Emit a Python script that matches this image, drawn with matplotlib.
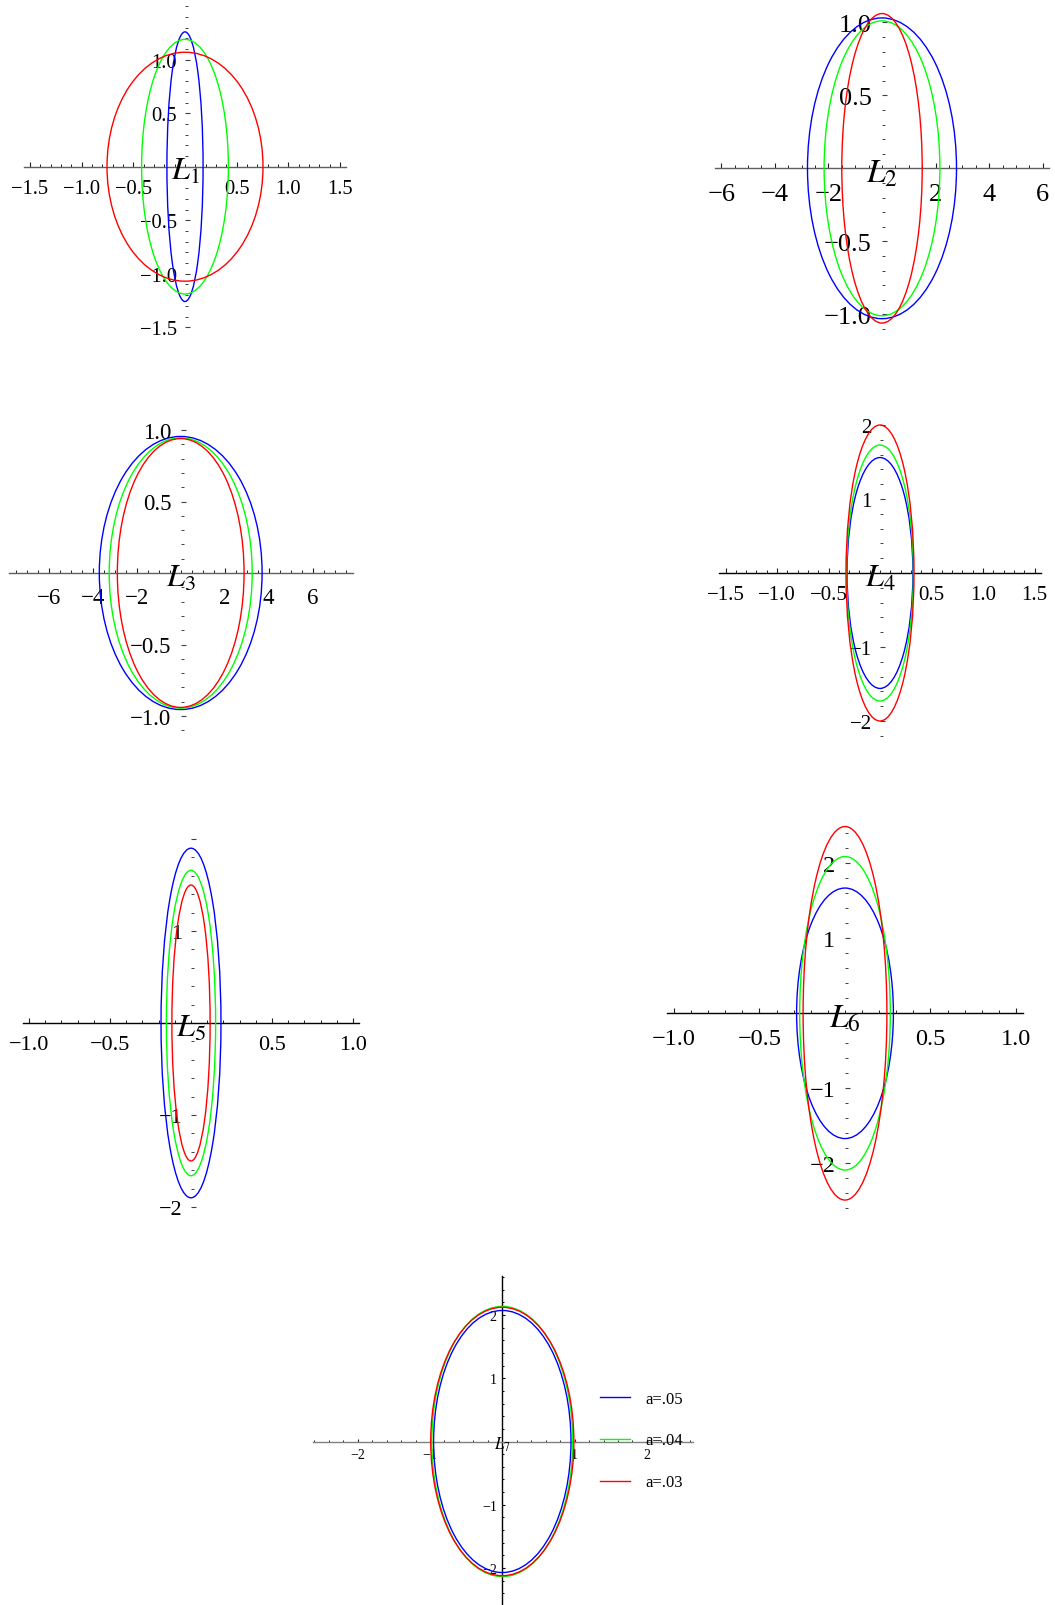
import matplotlib
matplotlib.use('Agg')
import matplotlib.pyplot as plt
from matplotlib.patches import Ellipse
from matplotlib.ticker import MultipleLocator
from matplotlib.lines import Line2D

W, H = 1055, 1606
plt.rcParams['font.family'] = ['Liberation Serif', 'DejaVu Serif']
plt.rcParams['mathtext.fontset'] = 'stix'

# ---------------- data ----------------
series_labels = ['a=.05', 'a=.04', 'a=.03']
series_colors = ['#0000ff', '#00ff00', '#ff0000']
panel_names = [r'$L_1$', r'$L_2$', r'$L_3$', r'$L_4$', r'$L_5$', r'$L_6$', r'$L_7$']

# semi-axes (x half-width, y half-height) of each curve, order: a=.05, a=.04, a=.03
L1_rx = [0.175, 0.42, 0.755]
L1_ry = [1.26, 1.19, 1.07]
L2_rx = [2.78, 2.16, 1.50]
L2_ry = [1.03, 1.01, 1.06]
L3_rx = [3.70, 3.25, 2.88]
L3_ry = [0.955, 0.945, 0.94]
L4_rx = [0.32, 0.325, 0.33]
L4_ry = [1.56, 1.73, 2.00]
L5_rx = [0.185, 0.152, 0.118]
L5_ry = [1.90, 1.66, 1.50]
L6_rx = [0.283, 0.265, 0.245]
L6_ry = [1.67, 2.09, 2.49]
L7_rx = [0.95, 0.975, 0.99]
L7_ry = [2.07, 2.135, 2.12]

L1_xticks = [-1.5, -1.0, -0.5, 0.5, 1.0, 1.5]
L1_xlabels = ['−1.5', '−1.0', '−0.5', '0.5', '1.0', '1.5']
L1_yticks = [-1.5, -1.0, -0.5, 0.5, 1.0]
L1_ylabels = ['−1.5', '−1.0', '−0.5', '0.5', '1.0']

L2_xticks = [-6, -4, -2, 2, 4, 6]
L2_xlabels = ['−6', '−4', '−2', '2', '4', '6']
L2_yticks = [-1.0, -0.5, 0.5, 1.0]
L2_ylabels = ['−1.0', '−0.5', '0.5', '1.0']

L3_xticks = [-6, -4, -2, 2, 4, 6]
L3_xlabels = ['−6', '−4', '−2', '2', '4', '6']
L3_yticks = [-1.0, -0.5, 0.5, 1.0]
L3_ylabels = ['−1.0', '−0.5', '0.5', '1.0']

L4_xticks = [-1.5, -1.0, -0.5, 0.5, 1.0, 1.5]
L4_xlabels = ['−1.5', '−1.0', '−0.5', '0.5', '1.0', '1.5']
L4_yticks = [-2, -1, 1, 2]
L4_ylabels = ['−2', '−1', '1', '2']

L5_xticks = [-1.0, -0.5, 0.5, 1.0]
L5_xlabels = ['−1.0', '−0.5', '0.5', '1.0']
L5_yticks = [-2, -1, 1, 2]
L5_ylabels = ['−2', '−1', '1', '']

L6_xticks = [-1.0, -0.5, 0.5, 1.0]
L6_xlabels = ['−1.0', '−0.5', '0.5', '1.0']
L6_yticks = [-2, -1, 1, 2]
L6_ylabels = ['−2', '−1', '1', '2']

L7_xticks = [-2, -1, 1, 2]
L7_xlabels = ['−2', '−1', '1', '2']
L7_yticks = [-2, -1, 1, 2]
L7_ylabels = ['−2', '−1', '1', '2']

panel_rx = [L1_rx, L2_rx, L3_rx, L4_rx, L5_rx, L6_rx, L7_rx]
panel_ry = [L1_ry, L2_ry, L3_ry, L4_ry, L5_ry, L6_ry, L7_ry]
panel_xticks = [(L1_xticks, L1_xlabels), (L2_xticks, L2_xlabels), (L3_xticks, L3_xlabels),
                (L4_xticks, L4_xlabels), (L5_xticks, L5_xlabels), (L6_xticks, L6_xlabels),
                (L7_xticks, L7_xlabels)]
panel_yticks = [(L1_yticks, L1_ylabels), (L2_yticks, L2_ylabels), (L3_yticks, L3_ylabels),
                (L4_yticks, L4_ylabels), (L5_yticks, L5_ylabels), (L6_yticks, L6_ylabels),
                (L7_yticks, L7_ylabels)]

# ---------------- layout (pixels) ----------------
layout = [
    dict(ox=185, oy=167.7, sx=103.3, sy=107, xlim=(-1.56, 1.56), ylim=(-1.52, 1.52),
         xm=0.1, ym=0.1, tf=14.8, xpad=9.0, lf=23, xc='#606060', yc=None),
    dict(ox=882, oy=169.3, sx=26.8, sy=146, xlim=(-6.25, 6.22), ylim=(-1.1, 1.03),
         xm=0.5, ym=0.1, tf=19, xpad=10.5, lf=24, xc='#606060', yc=None),
    dict(ox=180.7, oy=574, sx=22, sy=143, xlim=(-7.8, 7.85), ylim=(-1.12, 1.06),
         xm=0.5, ym=0.1, tf=16.5, xpad=10.0, lf=23, xc='#606060', yc=None),
    dict(ox=880, oy=574, sx=103, sy=74, xlim=(-1.56, 1.56), ylim=(-2.22, 2.03),
         xm=0.1, ym=0.2, tf=15, xpad=8.5, lf=23, xc='#000000', yc=None),
    dict(ox=191, oy=1024, sx=162, sy=92, xlim=(-1.04, 1.04), ylim=(-2.02, 2.02),
         xm=0.1, ym=0.2, tf=16, xpad=8.5, lf=23, xc='#000000', yc=None),
    dict(ox=845, oy=1014.3, sx=171, sy=75, xlim=(-1.04, 1.04), ylim=(-2.61, 2.42),
         xm=0.1, ym=0.2, tf=17.5, xpad=10.5, lf=24, xc='#000000', yc=None),
    dict(ox=502.3, oy=1442.5, sx=72.3, sy=63.3, xlim=(-2.62, 2.64), ylim=(-2.58, 2.62),
         xm=0.2, ym=0.2, tf=10, xpad=4.5, lf=12, xc='#808080', yc='#000000'),
]

fig = plt.figure(figsize=(W / 100, H / 100), dpi=100)
fig.patch.set_facecolor('white')


def add_panel(L):
    x0, x1 = L['xlim']
    y0, y1 = L['ylim']
    left = (L['ox'] + x0 * L['sx']) / W
    width = (x1 - x0) * L['sx'] / W
    top_px = L['oy'] - y1 * L['sy']
    bot_px = L['oy'] - y0 * L['sy']
    ax = fig.add_axes([left, 1 - bot_px / H, width, (bot_px - top_px) / H])
    ax.set_xlim(x0, x1)
    ax.set_ylim(y0, y1)
    return ax


for i, L in enumerate(layout):
    ax = add_panel(L)
    ax.patch.set_visible(False)
    for s in ['top', 'right']:
        ax.spines[s].set_visible(False)
    ax.spines['bottom'].set_position(('data', 0))
    ax.spines['left'].set_position(('data', 0))
    ax.spines['bottom'].set_color(L['xc'])
    ax.spines['bottom'].set_linewidth(1.0)
    if L['yc'] is None:
        ax.spines['left'].set_color('none')
        ycol = '#404040'
    else:
        ax.spines['left'].set_color(L['yc'])
        ax.spines['left'].set_linewidth(1.0)
        ycol = L['yc']

    xt, xl = panel_xticks[i]
    yt, yl = panel_yticks[i]
    ax.set_xticks(xt, labels=xl)
    ax.set_yticks(yt, labels=yl)
    ax.xaxis.set_minor_locator(MultipleLocator(L['xm']))
    ax.yaxis.set_minor_locator(MultipleLocator(L['ym']))
    small = L['tf'] < 12
    ax.tick_params(axis='x', which='major', direction='in', length=3.5 if not small else 2.5,
                   width=0.8, color='#202020', labelsize=L['tf'], pad=L['xpad'])
    ax.tick_params(axis='x', which='minor', direction='in', length=2.0 if not small else 1.5,
                   width=0.7, color='#202020')
    ax.tick_params(axis='y', which='major', direction='in', length=3.5 if not small else 2.5,
                   width=0.8, color=ycol, labelsize=L['tf'], pad=0.4 * L['tf'])
    ax.tick_params(axis='y', which='minor', direction='in', length=2.0 if not small else 1.5,
                   width=0.7, color=ycol)

    for rx, ry, c in zip(panel_rx[i], panel_ry[i], series_colors):
        ax.add_patch(Ellipse((0, 0), 2 * rx, 2 * ry, fill=False, edgecolor=c,
                             lw=1.0, clip_on=False, zorder=3))

    ax.annotate(panel_names[i], xy=(0, 0), xytext=(0, -3.5 if not small else -1.5),
                textcoords='offset points',
                ha='center', va='center', fontsize=L['lf'], zorder=5)

handles = [Line2D([], [], color=c, lw=1.0) for c in series_colors]
fig.legend(handles, series_labels, loc='center left',
           bbox_to_anchor=(600 / W, 1 - 1441.5 / H), frameon=False, fontsize=12,
           handlelength=1.8, handletextpad=0.9, labelspacing=1.55,
           borderpad=0, borderaxespad=0)

fig.savefig('out.png', dpi=100, facecolor='white')
